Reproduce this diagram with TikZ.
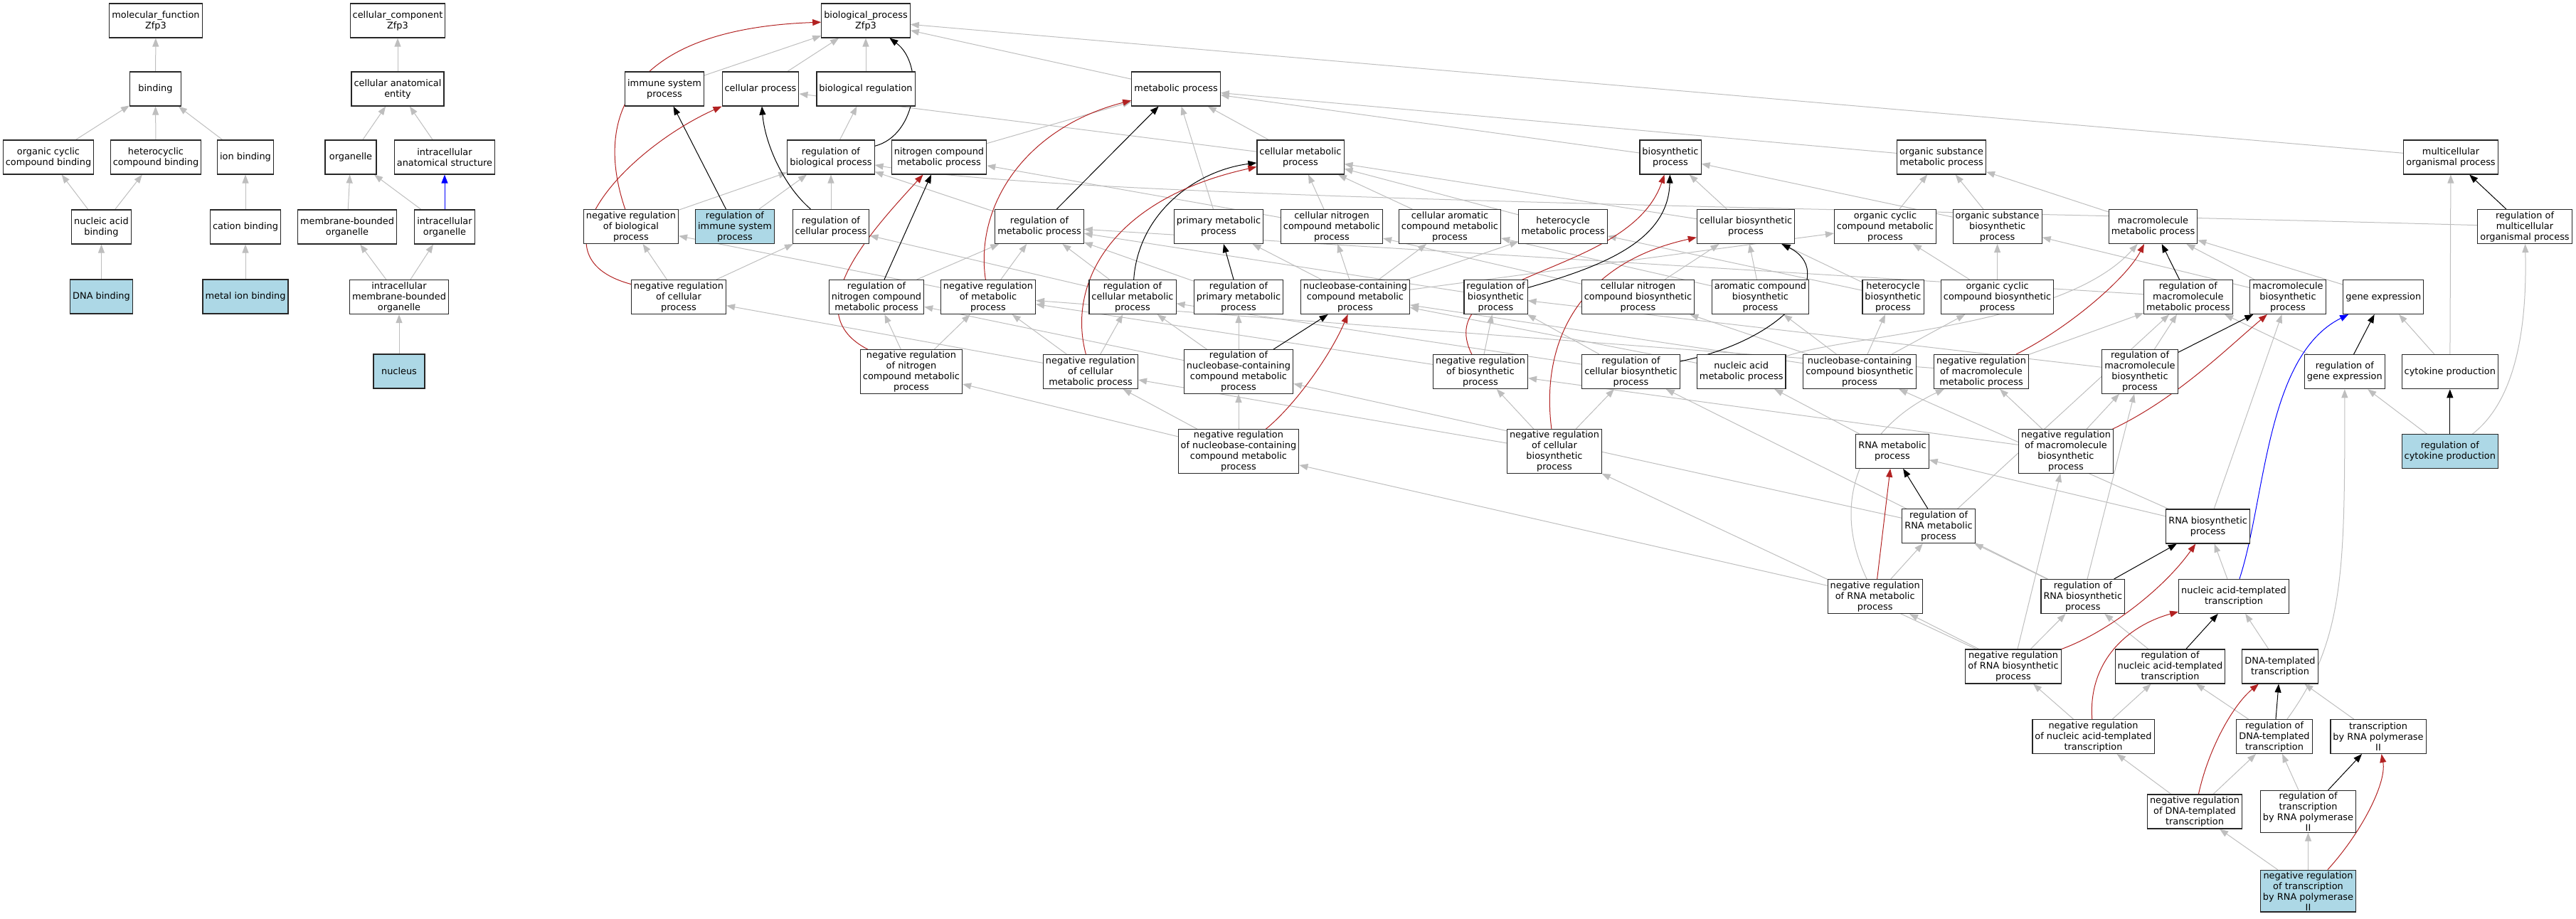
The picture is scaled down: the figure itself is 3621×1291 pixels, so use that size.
\documentclass[tikz,border=0pt]{standalone}
\usepackage{fontspec}
\setmainfont{DejaVu Sans}
\usepackage{xcolor}
\usetikzlibrary{arrows.meta}
\definecolor{qblue}{HTML}{ADD8E6}
\definecolor{isagray}{HTML}{BEBEBE}
\definecolor{negred}{HTML}{B22222}
\pgfdeclarelayer{bg}
\pgfsetlayers{bg,main}

\begin{document}
\begin{tikzpicture}[x=0.5pt,y=-0.5pt,>={Triangle[length=6pt,width=4.5pt]}]
        \tikzstyle{term}=[rectangle,draw=black!85,line width=0.55pt,fill=white,align=center,
          font=\fontsize{6.45}{7.5}\selectfont,inner xsep=1.75pt,inner ysep=1pt,
          minimum width=36pt,minimum height=24pt]
        \tikzstyle{query}=[term,fill=qblue]
        \tikzstyle{link}=[draw,line width=0.5pt]
        \tikzstyle{isa}=[link,->,isagray]
        \tikzstyle{reg}=[link,->,black]
        \tikzstyle{negreg}=[link,->,negred]
        \tikzstyle{partof}=[link,->,blue]
        \useasboundingbox (0,0) rectangle (3621,1291);
        % molecular function
        \node [term] (mf) at (219,29) {molecular\_function\\Zfp3};
        \node [term] (binding) at (218.5,125) {binding};
        \node [term] (occb) at (68,221) {organic cyclic\\compound binding};
        \node [term] (hccb) at (219,221) {heterocyclic\\compound binding};
        \node [term] (ionb) at (345,221) {ion binding};
        \node [term] (nab) at (142.5,319) {nucleic acid\\binding};
        \node [term] (catb) at (345,319) {cation binding};
        \node [query] (dnab) at (142.5,417) {DNA binding};
        \node [query] (mib) at (345,417) {metal ion binding};
        % cellular component
        \node [term] (cc) at (559,29) {cellular\_component\\Zfp3};
        \node [term] (cae) at (559,125) {cellular anatomical\\entity};
        \node [term] (organelle) at (493,221) {organelle};
        \node [term] (ias) at (625,221) {intracellular\\anatomical structure};
        \node [term] (mbo) at (488,319) {membrane-bounded\\organelle};
        \node [term] (io) at (625,319) {intracellular\\organelle};
        \node [term] (imbo) at (561,417.5) {intracellular\\membrane-bounded\\organelle};
        \node [query] (nucleus) at (561,522) {nucleus};
        % biological process
        \node [term] (bp) at (1217,29) {biological\_process\\Zfp3};
        \node [term] (isp) at (934,125) {immune system\\process};
        \node [term] (cp) at (1069,125) {cellular process};
        \node [term] (br) at (1217,125) {biological regulation};
        \node [term] (mp) at (1653,125) {metabolic process};
        \node [term] (rbp) at (1168,221) {regulation of\\biological process};
        \node [term] (ncmp) at (1320,221) {nitrogen compound\\metabolic process};
        \node [term] (cmp) at (1828,221) {cellular metabolic\\process};
        \node [term] (bsp) at (2348,221) {biosynthetic\\process};
        \node [term] (osmp) at (2729,221) {organic substance\\metabolic process};
        \node [term] (mop) at (3445,221) {multicellular\\organismal process};
        \node [term] (nrbp) at (887,318.5) {negative regulation\\of biological\\process};
        \node [query] (risp) at (1033,318.5) {regulation of\\immune system\\process};
        \node [term] (rcp) at (1168,318.5) {regulation of\\cellular process};
        \node [term] (rmp) at (1461,318.5) {regulation of\\metabolic process};
        \node [term] (pmp) at (1713,318.5) {primary metabolic\\process};
        \node [term] (cncmp) at (1872,318.5) {cellular nitrogen\\compound metabolic\\process};
        \node [term] (cacmp) at (2038,318.5) {cellular aromatic\\compound metabolic\\process};
        \node [term] (hmp) at (2197,318.5) {heterocycle\\metabolic process};
        \node [term] (cbp) at (2454,318.5) {cellular biosynthetic\\process};
        \node [term] (occmp) at (2650,318.5) {organic cyclic\\compound metabolic\\process};
        \node [term] (osbp) at (2807.6,318.5) {organic substance\\biosynthetic\\process};
        \node [term] (mmp) at (3026.5,318.5) {macromolecule\\metabolic process};
        \node [term] (rmop) at (3549,318.5) {regulation of\\multicellular\\organismal process};
        \node [term] (nrcp) at (954,417.5) {negative regulation\\of cellular\\process};
        \node [term] (rncmp) at (1232,417.5) {regulation of\\nitrogen compound\\metabolic process};
        \node [term] (nrmp) at (1389,417.5) {negative regulation\\of metabolic\\process};
        \node [term] (rcmp) at (1592,417.5) {regulation of\\cellular metabolic\\process};
        \node [term] (rpmp) at (1741,417.5) {regulation of\\primary metabolic\\process};
        \node [term] (nbcmp) at (1905,417.5) {nucleobase-containing\\compound metabolic\\process};
        \node [term] (rbsp) at (2102.5,417.5) {regulation of\\biosynthetic\\process};
        \node [term] (cncbp) at (2302.5,417.5) {cellular nitrogen\\compound biosynthetic\\process};
        \node [term] (acbp) at (2474.5,417.5) {aromatic compound\\biosynthetic\\process};
        \node [term] (hbp) at (2661,417.5) {heterocycle\\biosynthetic\\process};
        \node [term] (occbp) at (2807.6,417.5) {organic cyclic\\compound biosynthetic\\process};
        \node [term] (rmmp) at (3075.8,417.5) {regulation of\\macromolecule\\metabolic process};
        \node [term] (mbp) at (3216,417.5) {macromolecule\\biosynthetic\\process};
        \node [term] (ge) at (3350.3,417.5) {gene expression};
        \node [term] (nrncmp) at (1281,522.5) {negative regulation\\of nitrogen\\compound metabolic\\process};
        \node [term] (nrcmp) at (1533,522.5) {negative regulation\\of cellular\\metabolic process};
        \node [term] (rnbcmp) at (1741,522.5) {regulation of\\nucleobase-containing\\compound metabolic\\process};
        \node [term] (nrbsp) at (2081,522.5) {negative regulation\\of biosynthetic\\process};
        \node [term] (rcbp) at (2292.5,522.5) {regulation of\\cellular biosynthetic\\process};
        \node [term] (namp) at (2447.7,522.5) {nucleic acid\\metabolic process};
        \node [term] (nbcbp) at (2614,522.5) {nucleobase-containing\\compound biosynthetic\\process};
        \node [term] (nrmmp) at (2785,522.5) {negative regulation\\of macromolecule\\metabolic process};
        \node [term] (rmbp) at (3008,522.5) {regulation of\\macromolecule\\biosynthetic\\process};
        \node [term] (rge) at (3295.8,522.7) {regulation of\\gene expression};
        \node [term] (cyp) at (3443.8,522.7) {cytokine production};
        \node [term] (nrnbcmp) at (1741,634.5) {negative regulation\\of nucleobase-containing\\compound metabolic\\process};
        \node [term] (nrcbp) at (2185,634.5) {negative regulation\\of cellular\\biosynthetic\\process};
        \node [term] (rnamp) at (2660,634.3) {RNA metabolic\\process};
        \node [term] (nrmbp) at (2904,634.5) {negative regulation\\of macromolecule\\biosynthetic\\process};
        \node [query] (rcyp) at (3443.8,634.7) {regulation of\\cytokine production};
        \node [term] (rrnamp) at (2725,739.7) {regulation of\\RNA metabolic\\process};
        \node [term] (rnabp) at (3103.6,740) {RNA biosynthetic\\process};
        \node [term] (nrrnamp) at (2635.7,838.5) {negative regulation\\of RNA metabolic\\process};
        \node [term] (rrnabp) at (2927.8,838.5) {regulation of\\RNA biosynthetic\\process};
        \node [term] (natt) at (3140,838.3) {nucleic acid-templated\\transcription};
        \node [term] (nrrnabp) at (2830,937) {negative regulation\\of RNA biosynthetic\\process};
        \node [term] (rnatt) at (3050.5,937) {regulation of\\nucleic acid-templated\\transcription};
        \node [term] (dtt) at (3205,937) {DNA-templated\\transcription};
        \node [term] (nrnatt) at (2942.5,1035.5) {negative regulation\\of nucleic acid-templated\\transcription};
        \node [term] (rdtt) at (3197,1035.5) {regulation of\\DNA-templated\\transcription};
        \node [term] (trp) at (3343,1035.5) {transcription\\by RNA polymerase\\II};
        \node [term] (nrdtt) at (3085,1141) {negative regulation\\of DNA-templated\\transcription};
        \node [term] (rtrp) at (3244.5,1140.7) {regulation of\\transcription\\by RNA polymerase\\II};
        \node [query] (nrtrp) at (3244.5,1252.6) {negative regulation\\of transcription\\by RNA polymerase\\II};

        \begin{pgfonlayer}{bg}
        % is_a, molecular function and cellular component
        \path[isa] (binding) edge (mf) (occb) edge (binding) (hccb) edge (binding)
          (ionb) edge (binding) (nab) edge (occb) (nab) edge (hccb) (catb) edge (ionb)
          (dnab) edge (nab) (mib) edge (catb);
        \path[isa] (cae) edge (cc) (organelle) edge (cae) (ias) edge (cae)
          (mbo) edge (organelle) (io) edge (organelle) (imbo) edge (mbo)
          (imbo) edge (io) (nucleus) edge (imbo);
        \path[partof] (io) edge (ias);
        % is_a, biological process
        \path[isa] (isp) edge (bp) (cp) edge (bp) (br) edge (bp) (mp) edge (bp) (mop) edge (bp)
          (rbp) edge (br) (ncmp) edge (mp) (cmp) edge (mp) (cmp) edge (cp)
          (bsp) edge (mp) (osmp) edge (mp) (pmp) edge (mp);
        \path[isa] (nrbp) edge (rbp) (risp) edge (rbp) (rcp) edge (rbp) (rmp) edge (rbp)
          (cncmp) edge (ncmp) (cncmp) edge (cmp) (cacmp) edge (cmp) (hmp) edge (cmp)
          (cbp) edge (cmp) (cbp) edge (bsp) (occmp) edge (osmp) (osbp) edge (osmp)
          (osbp) edge (bsp) (mmp) edge (osmp);
        \draw[isa] (rmop) .. controls (2600,292) and (1500,280) .. (rbp);
        \path[isa] (nrcp) edge (nrbp) (nrcp) edge (rcp) (rncmp) edge (rmp) (nrmp) edge (rmp)
          (nrmp) edge (nrbp) (rcmp) edge (rmp) (rcmp) edge (rcp) (rpmp) edge (rmp)
          (nbcmp) edge (pmp) (nbcmp) edge (cncmp) (nbcmp) edge (cacmp) (nbcmp) edge (hmp)
          (nbcmp) edge (occmp) (rbsp) edge (rmp) (cncbp) edge (cncmp) (cncbp) edge (cbp)
          (acbp) edge (cacmp) (acbp) edge (cbp) (hbp) edge (hmp) (hbp) edge (cbp)
          (occbp) edge (occmp) (occbp) edge (osbp) (rmmp) edge (rmp) (mbp) edge (mmp)
          (mbp) edge (osbp) (ge) edge (mmp);
        \path[isa] (nrncmp) edge (rncmp) (nrncmp) edge (nrmp) (nrcmp) edge (nrcp)
          (nrcmp) edge (nrmp) (nrcmp) edge (rcmp) (rnbcmp) edge (rcmp) (rnbcmp) edge (rncmp)
          (rnbcmp) edge (rpmp) (nrbsp) edge (nrmp) (nrbsp) edge (rbsp) (rcbp) edge (rbsp)
          (rcbp) edge (rcmp) (namp) edge (nbcmp) (nbcbp) edge (nbcmp) (nbcbp) edge (cncbp)
          (nbcbp) edge (acbp) (nbcbp) edge (hbp) (nbcbp) edge (occbp) (nrmmp) edge (nrmp)
          (nrmmp) edge (rmmp) (rmbp) edge (rmmp) (rmbp) edge (rbsp) (rge) edge (rmmp)
          (cyp) edge (mop) (cyp) edge (ge);
        \draw[isa] (namp) .. controls (2600,470) and (2900,460) .. (mmp);
        \path[isa] (nrnbcmp) edge (rnbcmp) (nrnbcmp) edge (nrcmp) (nrnbcmp) edge (nrncmp)
          (nrcbp) edge (nrbsp) (nrcbp) edge (rcbp) (nrcbp) edge (nrcmp) (rnamp) edge (namp)
          (nrmbp) edge (nrmmp) (nrmbp) edge (rmbp) (nrmbp) edge (nrbsp) (rcyp) edge (rge)
          (rrnamp) edge (rnbcmp) (rrnamp) edge (rmmp) (rnabp) edge (rnamp)
          (rnabp) edge (nbcbp) (rnabp) edge (mbp);
        \draw[isa] (rcyp) .. controls (3540,560) and (3552,450) .. (rmop);
        \draw[isa] (nrrnamp) .. controls (2570,700) and (2620,600) .. (nrmmp);
        \path[isa] (nrrnamp) edge (rrnamp) (nrrnamp) edge (nrnbcmp) (rrnabp) edge (rrnamp)
          (rrnabp) edge (rmbp) (rrnabp) edge (rcbp) (natt) edge (rnabp)
          (nrrnabp) edge (nrrnamp) (nrrnabp) edge (rrnabp) (nrrnabp) edge (nrmbp)
          (nrrnabp) edge (nrcbp) (rnatt) edge (rrnabp) (dtt) edge (natt)
          (nrnatt) edge (nrrnabp) (nrnatt) edge (rnatt) (rdtt) edge (rnatt) (trp) edge (dtt)
          (nrdtt) edge (nrnatt) (nrdtt) edge (rdtt) (rtrp) edge (rdtt)
          (nrtrp) edge (nrdtt) (nrtrp) edge (rtrp);
        \draw[isa] (rdtt) .. controls (3296,900) and (3296,800) .. (rge);
        % regulates
        \draw[reg] (rbp) .. controls (1290,190) and (1300,90) .. (bp);
        \draw[reg] (rcp) .. controls (1100,260) and (1075,200) .. (cp);
        \draw[reg] (rcmp) .. controls (1600,300) and (1680,240) .. (cmp);
        \draw[reg] (rbsp) .. controls (2250,375) and (2345,340) .. (bsp);
        \draw[reg] (rcbp) .. controls (2520,475) and (2580,380) .. (cbp);
        \path[reg] (risp) edge (isp) (rmp) edge (mp) (rncmp) edge (ncmp) (rpmp) edge (pmp)
          (rnbcmp) edge (nbcmp) (rmmp) edge (mmp) (rmbp) edge (mbp) (rge) edge (ge)
          (rcyp) edge (cyp) (rmop) edge (mop) (rrnamp) edge (rnamp) (rrnabp) edge (rnabp)
          (rnatt) edge (natt) (rdtt) edge (dtt) (rtrp) edge (trp);
        % negatively regulates
        \draw[negreg] (nrbp) .. controls (830,150) and (900,40) .. (bp);
        \draw[negreg] (nrcp) .. controls (740,360) and (880,210) .. (cp);
        \draw[negreg] (nrmp) .. controls (1370,290) and (1440,180) .. (mp);
        \draw[negreg] (nrncmp) .. controls (1120,440) and (1220,330) .. (ncmp);
        \draw[negreg] (nrcmp) .. controls (1500,400) and (1560,280) .. (cmp);
        \draw[negreg] (nrnbcmp) .. controls (1820,570) and (1870,500) .. (nbcmp);
        \draw[negreg] (nrbsp) .. controls (2010,380) and (2290,390) .. (bsp);
        \draw[negreg] (nrcbp) .. controls (2165,480) and (2220,370) .. (cbp);
        \draw[negreg] (nrmmp) .. controls (2910,460) and (2990,390) .. (mmp);
        \draw[negreg] (nrmbp) .. controls (3060,560) and (3130,490) .. (mbp);
        \draw[negreg] (nrrnabp) .. controls (2960,890) and (3040,830) .. (rnabp);
        \draw[negreg] (nrnatt) .. controls (2935,930) and (2990,880) .. (natt);
        \draw[negreg] (nrdtt) .. controls (3105,1050) and (3140,990) .. (dtt);
        \draw[negreg] (nrtrp) .. controls (3320,1170) and (3355,1100) .. (trp);
        \path[negreg] (nrrnamp) edge (rnamp);
        % part_of
        \draw[partof] (natt) .. controls (3185,700) and (3185,500) .. (ge);
        \end{pgfonlayer}
\end{tikzpicture}
\end{document}
